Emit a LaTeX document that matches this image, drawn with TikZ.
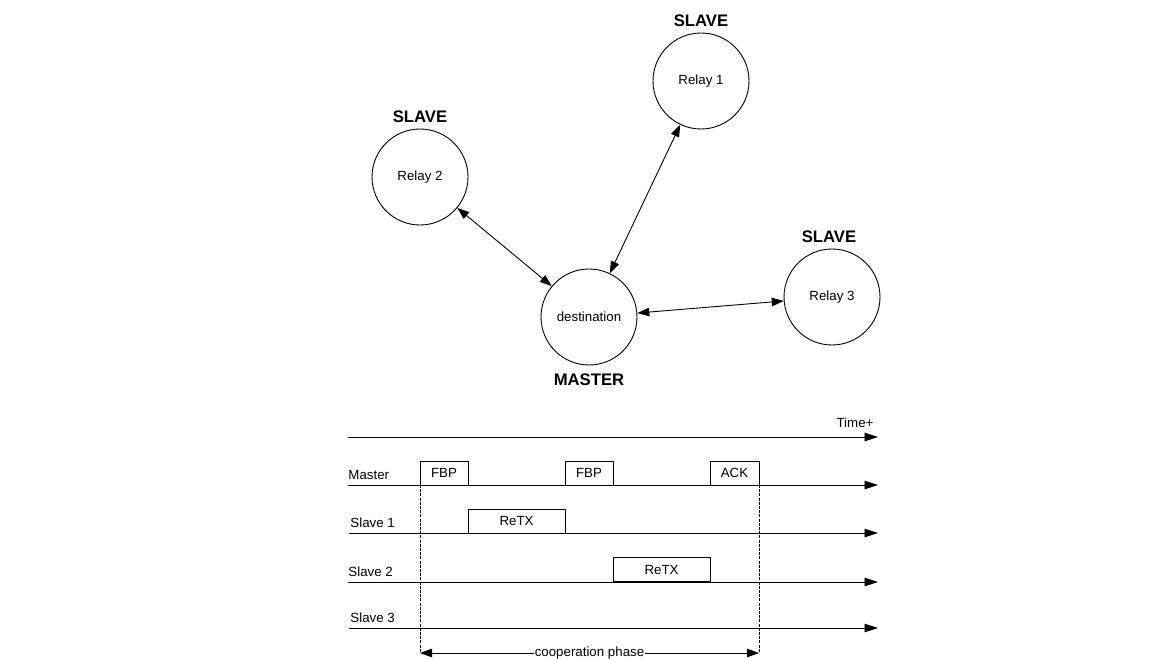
\documentclass[tikz,border=0pt]{standalone}
\usepackage{fontspec}
\setmainfont{Liberation Sans}
\usetikzlibrary{arrows.meta}

\tikzset{
  relay/.style={circle, draw, minimum size=96pt, inner sep=0pt, font=\fontsize{13.3}{16}\selectfont},
  role/.style={inner sep=0pt, font=\fontsize{16.7}{20}\selectfont\bfseries},
  lane/.style={anchor=west, inner sep=0pt, font=\fontsize{13.3}{16}\selectfont},
  slot/.style={draw, fill=white, minimum height=24pt, inner sep=0pt, font=\fontsize{13.3}{16}\selectfont},
  link/.style={{Triangle[length=12pt,width=8.5pt]}-{Triangle[length=12pt,width=8.5pt]}},
  timeline/.style={-{Triangle[length=13.5pt,width=8.5pt]}},
  phase/.style={dash pattern=on 3pt off 1.2pt},
}

\begin{document}
\begin{tikzpicture}[x=1pt, y=-1pt, line width=0.9pt]
  \useasboundingbox (0,0) rectangle (1150,658);

  % Nodes
  \node[relay] (relayA) at (701,81) {Relay 1};
  \node[relay] (relayB) at (420,177) {Relay 2};
  \node[relay] (relayC) at (832,297) {Relay 3};
  \node[relay] (dest) at (589,317) {destination};

  \node[role] (roleA) at (701,21) {SLAVE};
  \node[role] (roleB) at (420,117) {SLAVE};
  \node[role] (roleC) at (829,237) {SLAVE};
  \node[role] (roleD) at (589,380) {MASTER};

  % Edges
  \draw[link] (relayB) -- (dest);
  \draw[link] (relayA) -- (dest);
  \draw[link] (dest) -- (relayC);

  % Time lanes
  \coordinate (timeL) at (348,437);
  \coordinate (timeR) at (878,437);
  \coordinate (masterL) at (348,485);
  \coordinate (masterR) at (878,485);
  \coordinate (slaveAL) at (349,533);
  \coordinate (slaveAR) at (878,533);
  \coordinate (slaveBL) at (348,582);
  \coordinate (slaveBR) at (878,582);
  \coordinate (slaveCL) at (349,628);
  \coordinate (slaveCR) at (878,628);

  \draw[timeline] (timeL) -- (timeR);
  \draw[timeline] (masterL) -- (masterR);
  \draw[timeline] (slaveAL) -- (slaveAR);
  \draw[timeline] (slaveBL) -- (slaveBR);
  \draw[timeline] (slaveCL) -- (slaveCR);

  \node[lane, anchor=center] (timeLbl) at (855,423) {Time+};
  \node[lane] (masterLbl) at (348,475) {Master};
  \node[lane] (slaveALbl) at (350,523) {Slave 1};
  \node[lane] (slaveBLbl) at (348,572) {Slave 2};
  \node[lane] (slaveCLbl) at (350,618) {Slave 3};

  % Slots
  \node[slot, minimum width=48pt] (fbpA) at (444,473) {FBP};
  \node[slot, minimum width=48pt] (fbpB) at (589,473) {FBP};
  \node[slot, minimum width=49pt] (ack) at (734.5,473) {ACK};
  \node[slot, minimum width=97pt] (retxA) at (516.5,521) {ReTX};
  \node[slot, minimum width=97pt] (retxB) at (661.5,569.5) {ReTX};

  % Cooperation phase
  \coordinate (phaseTL) at (420,485);
  \coordinate (phaseBL) at (420,653);
  \coordinate (phaseTR) at (759,485);
  \coordinate (phaseBR) at (759,653);
  \draw[phase, line width=0.7pt] (phaseTL) -- (phaseBL);
  \draw[phase, line width=0.7pt] (phaseTR) -- (phaseBR);
  \draw[link] (phaseBL) -- node[fill=white, inner sep=1pt, font=\fontsize{13.3}{16}\selectfont] (phaseLbl) {cooperation phase} (phaseBR);
\end{tikzpicture}
\end{document}
